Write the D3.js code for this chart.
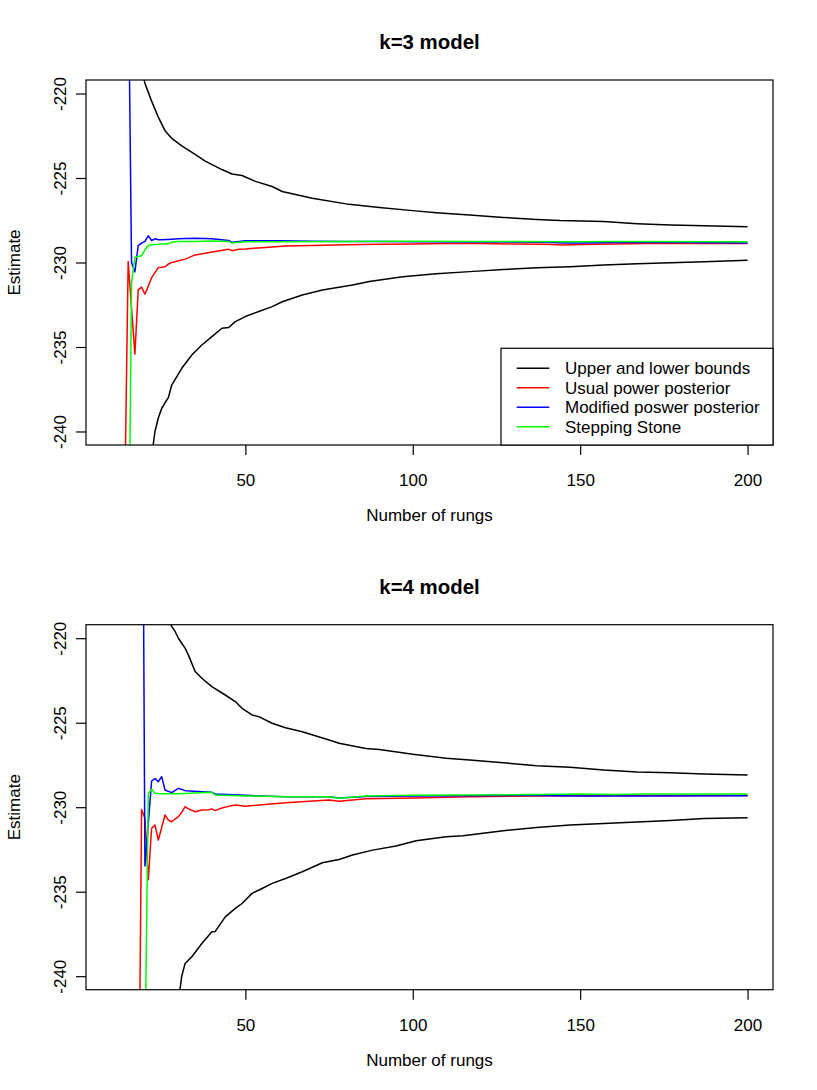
<!DOCTYPE html>
<html>
<head>
<meta charset="utf-8">
<title>Rungs estimates</title>
<script src="https://d3js.org/d3.v7.min.js"></script>
<style>
  body { margin: 0; background: #fff; }
  svg text { font-family: "Liberation Sans", Arial, Helvetica, sans-serif; fill: #000; }
</style>
</head>
<body>
<div id="chart"></div>
<script>
// axis limits and ticks
const xLim = [10, 200];
const yLim = [-240, -220];
const xTicks = [50, 100, 150, 200];
const yTicks = [-240, -235, -230, -225, -220];

const titles = ["k=3 model", "k=4 model"];
const legendLabels = ["Upper and lower bounds", "Usual power posterior", "Modified poswer posterior", "Stepping Stone"];
const legendColors = ["#000000", "#ff0000", "#0000ff", "#00ff00"];

// k=3 model, [rungs, estimate]
const k3Upper = [[19,-218.5],[20,-219.4],[22,-220.45],[24,-221.4],[26,-222.2],[28,-222.65],[31,-223.1],[35,-223.6],[38,-224.0],[43,-224.5],[46,-224.76],[49,-224.85],[53,-225.2],[58,-225.5],[61,-225.8],[70,-226.2],[81,-226.56],[90,-226.75],[100,-226.93],[107,-227.05],[117,-227.19],[127,-227.33],[137,-227.45],[144,-227.52],[157,-227.58],[167,-227.7],[177,-227.78],[187,-227.82],[200,-227.88]];
const k3Lower = [[22,-241.5],[23,-240.0],[24,-239.2],[25,-238.64],[26,-238.3],[27,-238.0],[28,-237.25],[31,-236.26],[34,-235.47],[37,-234.88],[40,-234.39],[43,-233.89],[45,-233.85],[47,-233.5],[50,-233.2],[54,-232.9],[58,-232.61],[61,-232.32],[67,-231.92],[73,-231.63],[82,-231.33],[87,-231.13],[97,-230.84],[107,-230.66],[117,-230.54],[127,-230.42],[137,-230.31],[147,-230.25],[157,-230.15],[167,-230.07],[177,-230.01],[187,-229.95],[200,-229.87]];
const k3Usual = [[14,-243.5],[15,-229.94],[16,-232.7],[17,-235.43],[18,-231.62],[19,-231.46],[20,-231.88],[21,-231.4],[22,-230.9],[23,-230.6],[24,-230.3],[25,-230.28],[26,-230.25],[27,-230.1],[28,-230.0],[29,-229.95],[30,-229.9],[32,-229.8],[35,-229.55],[38,-229.45],[41,-229.35],[44,-229.25],[45,-229.22],[46,-229.3],[48,-229.22],[50,-229.2],[55,-229.12],[58,-229.08],[62,-229.03],[70,-229.0],[80,-228.95],[90,-228.92],[100,-228.9],[110,-228.88],[120,-228.88],[130,-228.9],[140,-228.92],[145,-228.96],[150,-228.93],[160,-228.9],[170,-228.88],[180,-228.87],[190,-228.87],[200,-228.87]];
const k3Modified = [[15,-212],[16,-230.0],[17,-230.55],[18,-229.0],[19,-228.85],[20,-228.75],[21,-228.42],[22,-228.7],[23,-228.6],[24,-228.65],[25,-228.66],[28,-228.62],[30,-228.6],[32,-228.58],[35,-228.56],[40,-228.6],[45,-228.7],[46,-228.8],[50,-228.72],[60,-228.72],[70,-228.74],[80,-228.75],[90,-228.76],[100,-228.77],[120,-228.78],[140,-228.8],[145,-228.85],[150,-228.85],[160,-228.82],[180,-228.82],[200,-228.85]];
const k3Stepping = [[15,-252],[16,-231.2],[17,-229.7],[18,-229.64],[19,-229.6],[20,-229.25],[21,-228.99],[22,-228.95],[23,-228.93],[24,-228.92],[25,-228.9],[26,-228.9],[27,-228.88],[28,-228.8],[30,-228.75],[35,-228.75],[40,-228.73],[45,-228.75],[46,-228.85],[48,-228.8],[50,-228.77],[60,-228.77],[80,-228.76],[100,-228.74],[120,-228.75],[150,-228.77],[160,-228.76],[200,-228.77]];

// k=4 model, [rungs, estimate]
const k4Upper = [[27,-218.9],[28,-219.3],[29,-219.6],[30,-220.0],[31,-220.3],[32,-220.59],[33,-221.0],[35,-221.97],[37,-222.37],[40,-222.86],[44,-223.36],[47,-223.75],[49,-224.15],[52,-224.54],[54,-224.64],[58,-225.03],[62,-225.3],[67,-225.53],[75,-226.02],[78,-226.22],[86,-226.52],[90,-226.58],[100,-226.87],[110,-227.11],[117,-227.21],[127,-227.37],[137,-227.54],[147,-227.64],[157,-227.8],[167,-227.91],[177,-227.96],[187,-228.04],[200,-228.1]];
const k4Lower = [[30,-241.5],[31,-240.0],[32,-239.25],[34,-238.85],[37,-238.07],[40,-237.37],[41,-237.35],[44,-236.49],[47,-235.99],[49,-235.7],[52,-235.1],[55,-234.81],[58,-234.51],[62,-234.22],[67,-233.82],[73,-233.29],[78,-233.09],[82,-232.83],[88,-232.54],[95,-232.3],[101,-231.99],[110,-231.75],[115,-231.69],[127,-231.39],[137,-231.2],[147,-231.06],[157,-230.96],[167,-230.88],[177,-230.78],[187,-230.67],[200,-230.62]];
const k4Usual = [[18,-252.4],[19,-230.13],[20,-230.66],[21,-234.3],[22,-231.25],[23,-231.05],[24,-231.94],[25,-231.2],[26,-230.46],[27,-230.76],[28,-230.86],[29,-230.7],[30,-230.56],[31,-230.3],[32,-229.97],[33,-230.1],[35,-230.27],[37,-230.17],[39,-230.15],[40,-230.1],[41,-230.2],[43,-230.05],[45,-229.95],[47,-229.87],[50,-229.95],[55,-229.85],[62,-229.73],[75,-229.57],[78,-229.65],[86,-229.5],[100,-229.45],[117,-229.38],[137,-229.33],[150,-229.32],[170,-229.31],[200,-229.31]];
const k4Modified = [[19,-196],[20,-233.48],[21,-231.0],[22,-228.45],[23,-228.31],[24,-228.49],[25,-228.19],[26,-228.98],[28,-229.14],[30,-228.88],[32,-229.02],[40,-229.12],[41,-229.22],[50,-229.3],[62,-229.38],[75,-229.38],[78,-229.45],[86,-229.36],[100,-229.33],[137,-229.31],[150,-229.33],[170,-229.34],[200,-229.32]];
const k4Stepping = [[20,-245],[21,-229.2],[22,-228.94],[23,-229.18],[25,-229.2],[28,-229.2],[30,-229.2],[40,-229.12],[41,-229.28],[50,-229.33],[62,-229.38],[75,-229.38],[78,-229.47],[86,-229.33],[100,-229.3],[137,-229.25],[150,-229.22],[160,-229.25],[170,-229.22],[200,-229.22]];

const panels = [
  {title: titles[0], series: [k3Upper, k3Lower, k3Usual, k3Modified, k3Stepping], legend: true},
  {title: titles[1], series: [k4Upper, k4Lower, k4Usual, k4Modified, k4Stepping], legend: false}
];
const seriesColors = ["#000000", "#000000", "#ff0000", "#0000ff", "#00ff00"];

const width = 817, height = 1090, panelH = 544.7;
const plot = {left: 86, right: 773, top: 80, bottom: 445};
const fs = 17;

// R style 4% padding of the limits
function pad(lim) {
  const r = (lim[1] - lim[0]) * 0.04;
  return [lim[0] - r, lim[1] + r];
}

const x = d3.scaleLinear().domain(pad(xLim)).range([plot.left, plot.right]);
const y = d3.scaleLinear().domain(pad(yLim)).range([plot.bottom, plot.top]);

const svg = d3.select("#chart").append("svg")
  .attr("width", width)
  .attr("height", height);

const line = d3.line()
  .x(d => x(d[0]))
  .y(d => y(d[1]));

panels.forEach((p, i) => {
  const g = svg.append("g").attr("transform", `translate(0,${i * panelH})`);

  g.append("clipPath").attr("id", "clip" + i)
    .append("rect")
      .attr("x", plot.left).attr("y", plot.top)
      .attr("width", plot.right - plot.left)
      .attr("height", plot.bottom - plot.top);

  const lines = g.append("g").attr("clip-path", `url(#clip${i})`);
  p.series.forEach((s, j) => {
    lines.append("path")
      .datum(s)
      .attr("d", line)
      .attr("fill", "none")
      .attr("stroke", seriesColors[j])
      .attr("stroke-width", 1.5)
      .attr("stroke-linejoin", "round");
  });

  // x axis
  const xa = g.append("g")
    .attr("transform", `translate(0,${plot.bottom})`)
    .call(d3.axisBottom(x).tickValues(xTicks).tickSize(10).tickPadding(19).tickFormat(d3.format("d")));
  xa.select(".domain").remove();
  xa.selectAll("line").attr("stroke", "#000").attr("stroke-width", 1.2);
  xa.selectAll("text").attr("font-size", fs).attr("font-family", null);

  // y axis, labels rotated like R
  const ya = g.append("g")
    .attr("transform", `translate(${plot.left},0)`)
    .call(d3.axisLeft(y).tickValues(yTicks).tickSize(10).tickFormat(d => String(d)));
  ya.select(".domain").remove();
  ya.selectAll("line").attr("stroke", "#000").attr("stroke-width", 1.2);
  ya.selectAll("text")
    .attr("font-size", fs)
    .attr("font-family", null)
    .attr("transform", "rotate(-90)")
    .attr("x", 0)
    .attr("y", -20.5)
    .attr("dy", 0)
    .attr("text-anchor", "middle");

  // box
  g.append("rect")
    .attr("x", plot.left).attr("y", plot.top)
    .attr("width", plot.right - plot.left)
    .attr("height", plot.bottom - plot.top)
    .attr("fill", "none")
    .attr("stroke", "#000")
    .attr("stroke-width", 1.2);

  // title and axis labels
  g.append("text")
    .attr("x", (plot.left + plot.right) / 2).attr("y", 49)
    .attr("text-anchor", "middle")
    .attr("font-size", 20.4)
    .attr("font-weight", "bold")
    .text(p.title);

  g.append("text")
    .attr("x", (plot.left + plot.right) / 2).attr("y", 521)
    .attr("text-anchor", "middle")
    .attr("font-size", fs)
    .text("Number of rungs");

  g.append("text")
    .attr("transform", `translate(20,${(plot.top + plot.bottom) / 2}) rotate(-90)`)
    .attr("text-anchor", "middle")
    .attr("font-size", fs)
    .text("Estimate");

  if (p.legend) {
    const lg = g.append("g");
    lg.append("rect")
      .attr("x", 501).attr("y", 348.3)
      .attr("width", plot.right - 501)
      .attr("height", plot.bottom - 348.3)
      .attr("fill", "#fff")
      .attr("stroke", "#000")
      .attr("stroke-width", 1.2);
    legendLabels.forEach((lab, k) => {
      const ly = 368.3 + k * 19.45;
      lg.append("line")
        .attr("x1", 516.7).attr("x2", 549.3)
        .attr("y1", ly).attr("y2", ly)
        .attr("stroke", legendColors[k])
        .attr("stroke-width", 1.5);
      lg.append("text")
        .attr("x", 565).attr("y", ly)
        .attr("dy", "0.36em")
        .attr("font-size", fs)
        .text(lab);
    });
  }
});
</script>
</body>
</html>
